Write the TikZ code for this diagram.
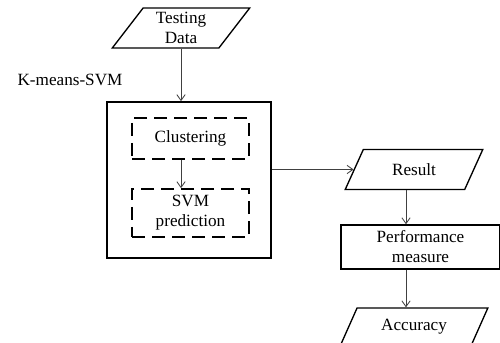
\documentclass[tikz,border=0pt]{standalone}
\usepackage{fontspec}
\setmainfont{Liberation Serif}
\usetikzlibrary{arrows.meta}
\usetikzlibrary{shapes.geometric}
\usetikzlibrary{positioning}
\newcommand{\pxu}{0.6pt}
\tikzset{iobox/.style = {draw, thick, trapezium, trapezium left angle=57,
                         trapezium right angle=123, trapezium stretches=true,
                         minimum width=138*\pxu, minimum height=40*\pxu,
                         align=center, inner sep=0pt},
         mainbox/.style = {draw, line width=1pt, minimum width=164*\pxu,
                           minimum height=156*\pxu},
         stagebox/.style = {draw, line width=1pt, dash pattern=on 8pt off 4pt,
                            minimum width=117*\pxu, align=center, inner sep=0pt},
         flow/.style = {draw=black!75, line width=0.5pt,
                        -{Straight Barb[length=3.5pt,width=5pt]}}}

\begin{document}
\begin{tikzpicture}[x=0.6pt, y=-0.6pt, font=\fontsize{10.3}{12}\selectfont]
    \useasboundingbox (0,0) rectangle (500,343);

    \node[iobox] (data) at (181,28) {Testing\\Data};
    \node (label) at (70,80) {K-means-SVM};
    \node[mainbox] (main) at (189,180) {};
    \node[stagebox, minimum height=41*\pxu] (clust) at (190.5,138.5) {Clustering};
    \node[stagebox, minimum height=48*\pxu] (svm) at (190.5,213) {SVM\\prediction};

    \node[iobox] (result) at (414,169.5) {Result};
    \node[draw, line width=0.9pt, minimum width=159*\pxu, minimum height=44*\pxu,
          align=center, inner sep=0pt] (perf) at (420.5,247) {Performance\\measure};
    \node[iobox, minimum width=148*\pxu, minimum height=38*\pxu] (acc) at (414,327) {Accuracy};
    \coordinate (col) at (406,0);

    \draw[flow] (data.south) -- (data.south |- main.north);
    \draw[flow] (clust.south -| data.south) -- (svm.north -| data.south);
    \draw[flow] (main.east |- result.west) -- (result.west);
    \draw[flow] (result.south -| col) -- (perf.north -| col);
    \draw[flow] (perf.south -| col) -- (acc.north -| col);
\end{tikzpicture}
\end{document}
